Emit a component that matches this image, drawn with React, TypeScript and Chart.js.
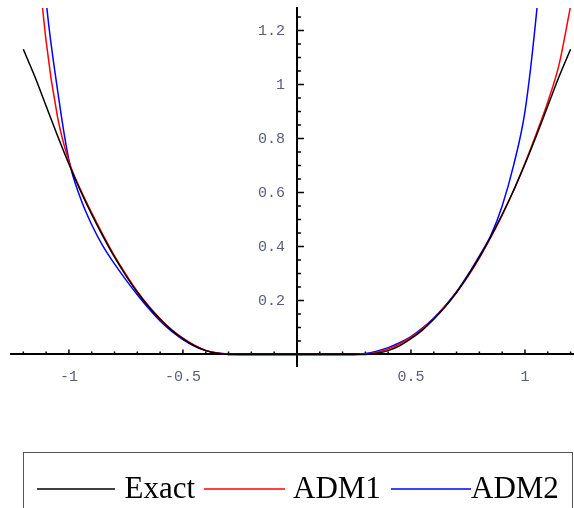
import React, { useEffect, useRef } from 'react';
import { Chart, registerables } from 'chart.js';

Chart.register(...registerables);

// x positions of the sampled points
const X_VALUES = [
  -1.2, -1.15, -1.1, -1.05, -1.0, -0.95, -0.9, -0.85, -0.8, -0.75, -0.7, -0.65, -0.6, -0.55, -0.5, -0.45, -0.4, -0.35, -0.3,
  -0.25, -0.2, -0.15, -0.1, -0.05, 0, 0.05, 0.1, 0.15, 0.2, 0.25,
  0.3, 0.35, 0.4, 0.45, 0.5, 0.55, 0.6, 0.65, 0.7, 0.75, 0.8, 0.85, 0.9, 0.95, 1.0, 1.05, 1.1, 1.15, 1.2,
];

const EXACT = [
  1.13, 1.03, 0.92, 0.81, 0.705, 0.607, 0.518, 0.436, 0.36, 0.292, 0.23, 0.176, 0.13, 0.09, 0.058, 0.032, 0.014, 0.004, 0,
  0, 0, 0, 0, 0, 0, 0, 0, 0, 0, 0,
  0, 0.004, 0.014, 0.032, 0.058, 0.09, 0.13, 0.176, 0.23, 0.292, 0.36, 0.436, 0.518, 0.607, 0.705, 0.81, 0.92, 1.03, 1.13,
];

const ADM1 = [
  2.3, 1.62, 1.16, 0.88, 0.715, 0.612, 0.524, 0.442, 0.365, 0.296, 0.233, 0.179, 0.132, 0.092, 0.06, 0.034, 0.015, 0.005, 0,
  0, 0, 0, 0, 0, 0, 0, 0, 0, 0, 0,
  0.001, 0.007, 0.02, 0.039, 0.063, 0.094, 0.132, 0.177, 0.229, 0.289, 0.357, 0.433, 0.516, 0.607, 0.708, 0.818, 0.935, 1.075, 1.29,
];

const ADM2 = [
  2.6, 1.85, 1.31, 0.98, 0.72, 0.58, 0.48, 0.4, 0.335, 0.276, 0.221, 0.17, 0.124, 0.086, 0.055, 0.031, 0.014, 0.005, 0.001,
  0, 0, 0, 0, 0, 0, 0, 0, 0, 0, 0,
  0.003, 0.012, 0.025, 0.043, 0.066, 0.097, 0.135, 0.18, 0.232, 0.295, 0.365, 0.44, 0.55, 0.7, 0.9, 1.26, 1.75, 2.4, 3.2,
];

const SERIES_NAMES = ['Exact', 'ADM1', 'ADM2'];
const SERIES_COLORS = ['#000000', '#ff0000', '#0000ff'];

const X_TICKS = [-1, -0.5, 0.5, 1];
const X_TICK_LABELS = ['-1', '-0.5', '0.5', '1'];
const Y_TICKS = [0.2, 0.4, 0.6, 0.8, 1, 1.2];
const Y_TICK_LABELS = ['0.2', '0.4', '0.6', '0.8', '1', '1.2'];

const TICK_FONT = { family: '"Liberation Mono", "DejaVu Sans Mono", monospace', size: 15 };
const TICK_COLOR = '#5a5f78';

const axisTicksPlugin = {
  id: 'mmaAxisTicks',
  beforeDatasetsDraw(chart: any) {
    const { ctx, scales } = chart;
    const xs = scales.x;
    const ys = scales.y;
    const x0 = xs.getPixelForValue(0);
    const y0 = ys.getPixelForValue(0);
    ctx.save();
    ctx.strokeStyle = '#000';
    ctx.lineWidth = 1.5;
    ctx.beginPath();
    for (let i = -12; i <= 12; i++) {
      if (i === 0) continue;
      const px = xs.getPixelForValue(i / 10);
      const len = i % 5 === 0 ? 5 : 3;
      ctx.moveTo(px, y0);
      ctx.lineTo(px, y0 - len);
    }
    for (let j = 1; j <= 25; j++) {
      const py = ys.getPixelForValue(j * 0.05);
      const len = j % 4 === 0 ? 7 : 4;
      ctx.moveTo(x0, py);
      ctx.lineTo(x0 + len, py);
    }
    ctx.stroke();
    // y tick labels, left of the vertical axis
    ctx.fillStyle = TICK_COLOR;
    ctx.font = `${TICK_FONT.size}px ${TICK_FONT.family}`;
    ctx.textAlign = 'right';
    ctx.textBaseline = 'middle';
    for (let k = 0; k < Y_TICKS.length; k++) {
      ctx.fillText(Y_TICK_LABELS[k], x0 - 12, ys.getPixelForValue(Y_TICKS[k]) + 1);
    }
    ctx.restore();
  },
};

const boxLegendPlugin = {
  id: 'boxLegend',
  afterDraw(chart: any) {
    const { ctx } = chart;
    ctx.save();
    ctx.strokeStyle = '#555';
    ctx.lineWidth = 1;
    ctx.strokeRect(23.5, 452.5, 549, 80);
    const lines = [
      [37, 115],
      [204, 285],
      [391, 471],
    ];
    const textX = [124.5, 293, 471];
    ctx.lineWidth = 1.5;
    for (let k = 0; k < SERIES_NAMES.length; k++) {
      ctx.strokeStyle = SERIES_COLORS[k];
      ctx.beginPath();
      ctx.moveTo(lines[k][0], 489);
      ctx.lineTo(lines[k][1], 489);
      ctx.stroke();
    }
    ctx.fillStyle = '#000';
    ctx.font = '31px "Liberation Serif", "Times New Roman", serif';
    ctx.textBaseline = 'alphabetic';
    ctx.textAlign = 'left';
    for (let k = 0; k < SERIES_NAMES.length; k++) {
      ctx.fillText(SERIES_NAMES[k], textX[k], 498);
    }
    ctx.restore();
  },
};

export default function App() {
  const canvasRef = useRef<HTMLCanvasElement | null>(null);

  useEffect(() => {
    const canvas = canvasRef.current;
    if (!canvas) return;
    const seriesData = [EXACT, ADM1, ADM2];
    const chart = new Chart(canvas, {
      type: 'line',
      data: {
        datasets: SERIES_NAMES.map((name, k) => ({
          label: name,
          data: X_VALUES.map((x, i) => ({ x, y: seriesData[k][i] })),
          borderColor: SERIES_COLORS[k],
          backgroundColor: SERIES_COLORS[k],
          borderWidth: 1.5,
          pointRadius: 0,
          fill: false,
          cubicInterpolationMode: 'monotone',
        })),
      },
      options: {
        animation: false,
        responsive: false,
        devicePixelRatio: 1,
        layout: { padding: { left: 11, top: 8, right: 0, bottom: 142 } },
        plugins: {
          legend: { display: false },
          tooltip: { enabled: false },
        },
        scales: {
          x: {
            type: 'linear',
            min: -1.254,
            max: 1.215,
            position: { y: 0 },
            grid: { display: false, drawTicks: false },
            border: { display: true, color: '#000', width: 2 },
            afterBuildTicks: (scale: any) => {
              scale.ticks = X_TICKS.map((v) => ({ value: v }));
            },
            ticks: {
              autoSkip: false,
              maxRotation: 0,
              padding: 14,
              color: TICK_COLOR,
              font: TICK_FONT,
              callback: (_v: any, i: number) => X_TICK_LABELS[i],
            },
          },
          y: {
            type: 'linear',
            min: -0.043,
            max: 1.283,
            position: { x: 0 },
            grid: { display: false, drawTicks: false },
            border: { display: true, color: '#000', width: 2 },
            afterBuildTicks: (scale: any) => {
              scale.ticks = Y_TICKS.map((v) => ({ value: v }));
            },
            ticks: { display: false },
          },
        },
      },
      plugins: [axisTicksPlugin, boxLegendPlugin],
    } as any);
    return () => chart.destroy();
  }, []);

  return (
    <div style={{ position: 'fixed', left: 0, top: 0, width: 574, height: 508, background: '#fff' }}>
      <canvas ref={canvasRef} width={574} height={508} style={{ display: 'block', width: 574, height: 508 }} />
    </div>
  );
}
